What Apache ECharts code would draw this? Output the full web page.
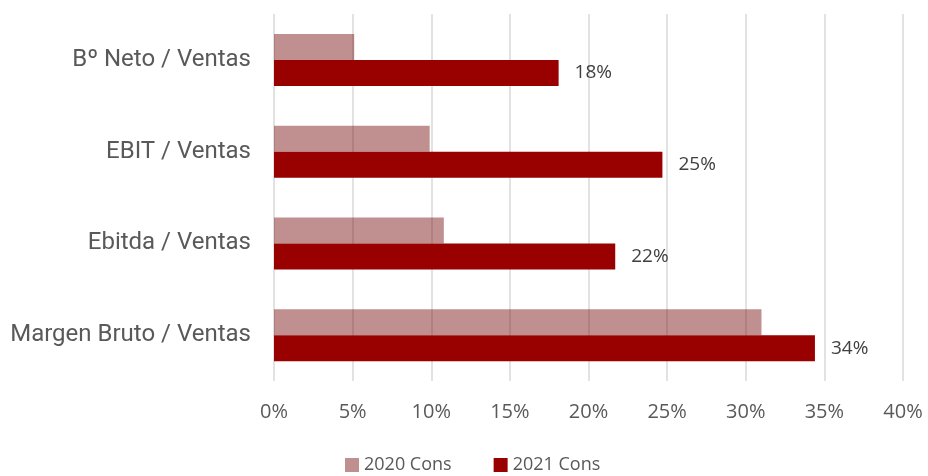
<!DOCTYPE html>
<html>
<head>
<meta charset="utf-8">
<script src="https://cdn.jsdelivr.net/npm/echarts@6/dist/echarts.min.js"></script>
<style>
  html, body { margin: 0; padding: 0; background: #fff; }
  #chart { width: 928px; height: 476px; }
</style>
</head>
<body>
<div id="chart"></div>
<script>
// Ratios, listed bottom to top as drawn on the category axis
const categories = ['Margen Bruto / Ventas', 'Ebitda / Ventas', 'EBIT / Ventas', 'Bº Neto / Ventas'];
const cons2020 = [31.0, 10.8, 9.9, 5.1];
const cons2021 = [34.4, 21.7, 24.7, 18.1];
const seriesNames = ['2020 Cons', '2021 Cons'];
const xTicks = { min: 0, max: 40, interval: 5 };

const chart = echarts.init(document.getElementById('chart'), null, { renderer: 'canvas' });

chart.setOption({
  animation: false,
  backgroundColor: '#ffffff',
  grid: { left: 274, right: 25, top: 14, bottom: 95, containLabel: false },
  legend: {
    data: seriesNames,
    bottom: -3,
    left: 340,
    itemWidth: 14,
    itemHeight: 14,
    itemGap: 42,
    icon: 'rect',
    textStyle: { fontFamily: 'Open Sans', fontSize: 18, color: '#595959' }
  },
  xAxis: {
    type: 'value',
    min: xTicks.min,
    max: xTicks.max,
    interval: xTicks.interval,
    axisLine: { show: false },
    axisTick: { show: false },
    splitLine: { show: true, lineStyle: { color: '#d9d9d9', width: 1.5 } },
    axisLabel: {
      formatter: v => v + '%',
      fontFamily: 'Open Sans',
      fontSize: 20,
      color: '#595959',
      margin: 21
    }
  },
  yAxis: {
    type: 'category',
    data: categories,
    axisLine: { show: false },
    axisTick: { show: false },
    axisLabel: {
      fontFamily: 'Roboto',
      fontSize: 24,
      color: '#595959',
      margin: 23
    }
  },
  series: [
    {
      name: seriesNames[0],
      type: 'bar',
      data: cons2020,
      barWidth: 26,
      barGap: '0%',
      itemStyle: { color: 'rgba(112,0,0,0.44)' }
    },
    {
      name: seriesNames[1],
      type: 'bar',
      data: cons2021,
      barWidth: 26,
      barGap: '0%',
      itemStyle: { color: '#990000' },
      label: {
        show: true,
        position: 'right',
        distance: 16,
        formatter: p => Math.round(p.value) + '%',
        fontFamily: 'Open Sans',
        fontSize: 19,
        color: '#404040'
      }
    }
  ]
});
</script>
</body>
</html>
